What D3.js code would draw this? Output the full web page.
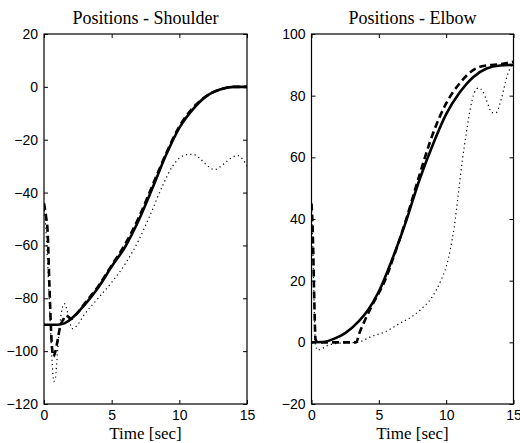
<!DOCTYPE html>
<html>
<head>
<meta charset="utf-8">
<script src="https://cdn.jsdelivr.net/npm/d3@7"></script>
<style>
  body { margin: 0; background: #fff; }
  svg text { fill: #000; }
</style>
</head>
<body>
<div id="chart"></div>
<script>
// ===========================
// Joint positions - shoulder / elbow
// solid = reference, dashed = thick trace, dotted = thin trace
// ===========================

const timeTicks = [0, 5, 10, 15];
const shoulderTicks = [20, 0, -20, -40, -60, -80, -100, -120];
const elbowTicks = [100, 80, 60, 40, 20, 0, -20];

// [time, degrees]
const shoulderSolid = [[0,-90],[1,-90],[1.5,-89.5],[2,-87.8],[3,-82.5],[4,-76],[5,-68],[6,-60.5],
  [7,-50.5],[8,-38.5],[9,-26],[10,-15.5],[11,-8.5],[12,-3.5],[13,-1],[14,0],[15,0]];
const shoulderDashed = [[0,-44],[0.15,-49],[0.27,-55],[0.4,-75],[0.57,-97],[0.7,-102],[0.82,-100.5],
  [1,-96],[1.18,-91],[1.43,-88],[1.6,-86.5],[1.8,-87],[2,-87.8],[2.4,-86],[3,-82],[4,-75.5],
  [5,-67.5],[6,-59.5],[7,-49.5],[8,-37.5],[9,-25.5],[10,-15],[11,-8],[12,-3.5],[13,-1],[14,0],[15,0]];
const shoulderDotted = [[0,-45],[0.15,-55],[0.3,-70],[0.45,-88],[0.6,-104],[0.72,-111.5],[0.85,-110],
  [1,-100],[1.15,-91],[1.3,-85],[1.5,-82],[1.7,-84.5],[1.9,-89],[2.1,-91.5],[2.4,-90.5],[3,-86],
  [4,-80],[5,-74],[6,-67],[7,-58],[7.8,-49],[8.8,-37],[9.5,-30],[10,-27],[10.5,-25.7],[11,-25.5],
  [11.5,-27],[12,-29.5],[12.6,-31.3],[13.2,-29.5],[13.8,-27],[14.3,-26],[14.7,-27.5],[15,-30]];

const elbowSolid = [[0,0],[1,0.2],[1.7,1.2],[2.5,3],[3.5,6.8],[4.2,10.5],[5,16.5],[6,27],[7,39],
  [8,52.5],[9,64],[10,74],[11,81],[12,86],[13,88.8],[14,89.8],[15,90]];
const elbowDashed = [[0,45],[0.1,35],[0.2,15],[0.3,1],[0.45,0],[1,0],[2,0],[3.3,0],[3.6,3.5],[4,7.5],
  [4.5,12],[5,16],[5.5,20.5],[6,26.5],[7,39.5],[8,54],[9,67.5],[10,77.5],[11,84],[12,88.3],
  [13,89.8],[14,90.2],[15,91]];
const elbowDotted = [[0,44],[0.1,30],[0.2,12],[0.3,-1],[0.45,-2.5],[0.8,-2],[1.2,-1],[2,-0.3],[3.4,0],
  [4.5,2],[5.5,3.5],[6.5,6],[7.5,8.5],[8.2,11],[9,15],[9.6,20],[10,24.5],[10.3,30],[10.6,37.5],
  [10.9,48],[11.2,59],[11.5,68],[11.8,76],[12.1,81],[12.4,82.5],[12.7,81.5],[13,78.5],[13.4,74.5],
  [13.7,74.5],[14.1,79],[14.5,86],[15,91]];

const width = 520, height = 443;
const plotTop = 34, plotBottom = 404;

const panels = [
  { title: 'Positions - Shoulder', left: 44, right: 247, yDomain: [-120, 20], yTicks: shoulderTicks,
    series: [shoulderDotted, shoulderSolid, shoulderDashed] },
  { title: 'Positions - Elbow', left: 311.5, right: 513.5, yDomain: [-20, 100], yTicks: elbowTicks,
    series: [elbowDotted, elbowSolid, elbowDashed] }
];

const styles = [
  { w: 1.2, dash: '1.2,3.2' },   // dotted
  { w: 2.6, dash: null },        // solid
  { w: 2.6, dash: '7,4' }        // dashed
];

const svg = d3.select('#chart').append('svg')
  .attr('width', width)
  .attr('height', height);

panels.forEach((p, i) => {
  const x = d3.scaleLinear().domain([0, 15]).range([p.left, p.right]);
  const y = d3.scaleLinear().domain(p.yDomain).range([plotBottom, plotTop]);
  const g = svg.append('g');

  g.append('clipPath').attr('id', 'clip' + i)
    .append('rect')
    .attr('x', p.left).attr('y', plotTop)
    .attr('width', p.right - p.left).attr('height', plotBottom - plotTop);

  // inward ticks on all four sides
  const tickLen = 4;
  g.append('g').attr('transform', `translate(0,${plotBottom})`)
    .call(d3.axisBottom(x).tickValues(timeTicks).tickSize(-tickLen).tickPadding(6).tickFormat(d3.format('d')));
  g.append('g').attr('transform', `translate(0,${plotTop})`)
    .call(d3.axisTop(x).tickValues(timeTicks).tickSize(-tickLen).tickFormat(''));
  g.append('g').attr('transform', `translate(${p.left},0)`)
    .call(d3.axisLeft(y).tickValues(p.yTicks).tickSize(-tickLen).tickPadding(6).tickFormat(d3.format('d')));
  g.append('g').attr('transform', `translate(${p.right},0)`)
    .call(d3.axisRight(y).tickValues(p.yTicks).tickSize(-tickLen).tickFormat(''));

  g.selectAll('.domain').remove();
  g.selectAll('.tick line').attr('stroke', '#000');
  g.selectAll('.tick text')
    .attr('font-family', '"Liberation Sans", Arial, sans-serif')
    .attr('font-size', 14)
    .attr('fill', '#000');

  g.append('rect')
    .attr('x', p.left).attr('y', plotTop)
    .attr('width', p.right - p.left).attr('height', plotBottom - plotTop)
    .attr('fill', 'none')
    .attr('stroke', '#000')
    .attr('stroke-width', 1.2);

  const line = d3.line()
    .x(d => x(d[0]))
    .y(d => y(d[1]))
    .curve(d3.curveMonotoneX);

  const plot = g.append('g').attr('clip-path', `url(#clip${i})`);
  p.series.forEach((s, k) => {
    plot.append('path')
      .datum(s)
      .attr('d', line)
      .attr('fill', 'none')
      .attr('stroke', '#000')
      .attr('stroke-width', styles[k].w)
      .attr('stroke-dasharray', styles[k].dash);
  });

  const cx = (p.left + p.right) / 2;
  g.append('text')
    .attr('x', cx).attr('y', 24)
    .attr('text-anchor', 'middle')
    .attr('font-family', '"Liberation Serif", "DejaVu Serif", serif')
    .attr('font-size', 18)
    .text(p.title);

  g.append('text')
    .attr('x', cx).attr('y', 439)
    .attr('text-anchor', 'middle')
    .attr('font-family', '"Liberation Serif", "DejaVu Serif", serif')
    .attr('font-size', 17)
    .text('Time [sec]');
});
</script>
</body>
</html>
